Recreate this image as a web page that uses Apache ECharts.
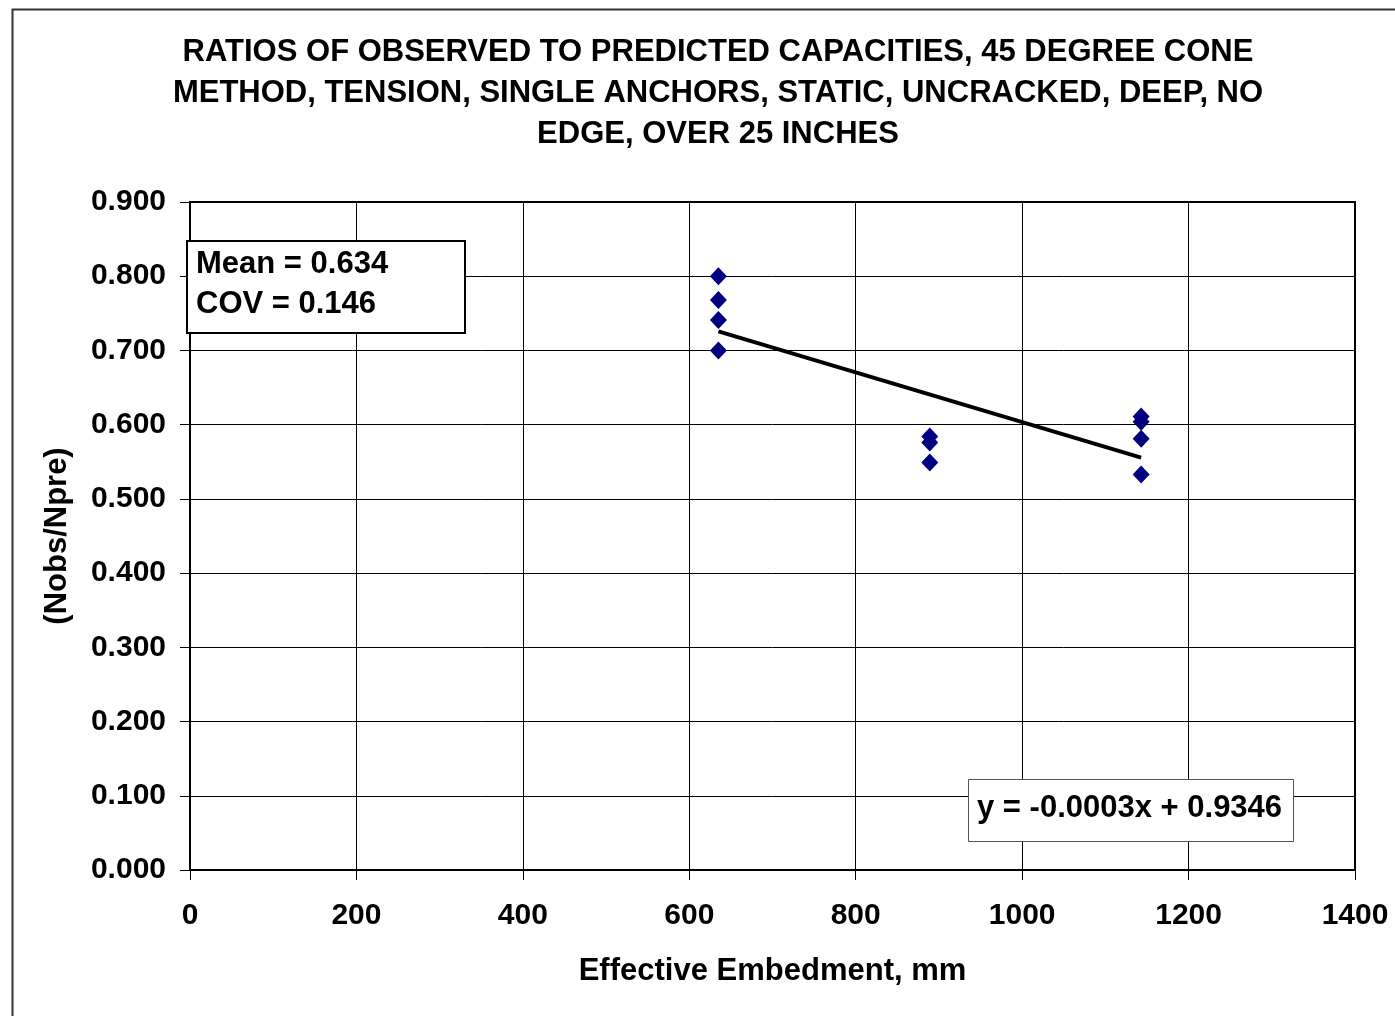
<!DOCTYPE html>
<html>
<head>
<meta charset="utf-8">
<script src="https://cdn.jsdelivr.net/npm/echarts@6/dist/echarts.min.js"></script>
<style>
html,body{margin:0;padding:0;background:#fff;}
#chart{width:1395px;height:1016px;}
</style>
</head>
<body>
<div id="chart"></div>
<script>
// Data
const embedment = [635, 635, 635, 635, 889, 889, 889, 1143, 1143, 1143, 1143];
const ratios = [0.800, 0.768, 0.741, 0.700, 0.584, 0.576, 0.549, 0.611, 0.604, 0.581, 0.533];
const titleLines = [
  'RATIOS OF OBSERVED TO PREDICTED CAPACITIES, 45 DEGREE CONE',
  'METHOD, TENSION, SINGLE ANCHORS, STATIC, UNCRACKED, DEEP, NO',
  'EDGE, OVER 25 INCHES'
];
const statsLines = ['Mean = 0.634', 'COV = 0.146'];
const equationText = 'y = -0.0003x + 0.9346';
const xTicks = { min: 0, max: 1400, interval: 200 };
const yTicks = { min: 0, max: 0.9, interval: 0.1 };

// Least-squares trend line from the data
const n = embedment.length;
const mx = embedment.reduce((a, b) => a + b, 0) / n;
const my = ratios.reduce((a, b) => a + b, 0) / n;
let sxy = 0, sxx = 0;
for (let i = 0; i < n; i++) { sxy += (embedment[i] - mx) * (ratios[i] - my); sxx += (embedment[i] - mx) ** 2; }
const slope = sxy / sxx, intercept = my - slope * mx;
const xMin = Math.min(...embedment), xMax = Math.max(...embedment);
const trend = [[xMin, intercept + slope * xMin], [xMax, intercept + slope * xMax]];

const FONT = 'Liberation Sans, Arial, sans-serif';
const chart = echarts.init(document.getElementById('chart'), null, { renderer: 'canvas' });
chart.setOption({
  backgroundColor: '#fff',
  animation: false,
  title: {
    text: titleLines.join('\n'),
    left: 713, top: 27, textAlign: 'center',
    textStyle: { fontFamily: FONT, fontWeight: 'bold', fontSize: 31, lineHeight: 41, color: '#000' }
  },
  grid: { left: 190, top: 202, right: 40, bottom: 146, show: true, borderColor: '#000', borderWidth: 2, backgroundColor: 'transparent' },
  xAxis: {
    type: 'value', min: xTicks.min, max: xTicks.max, interval: xTicks.interval,
    name: 'Effective Embedment, mm', nameLocation: 'middle', nameGap: 86,
    nameTextStyle: { fontFamily: FONT, fontWeight: 'bold', fontSize: 31, color: '#000' },
    axisLine: { show: true, onZero: false, lineStyle: { color: '#000', width: 2 } },
    axisTick: { show: true, inside: false, length: 10, lineStyle: { color: '#000', width: 1 } },
    axisLabel: { margin: 31, fontFamily: FONT, fontWeight: 'bold', fontSize: 30, color: '#000', formatter: v => String(v) },
    splitLine: { show: true, lineStyle: { color: '#000', width: 1 } }
  },
  yAxis: {
    type: 'value', min: yTicks.min, max: yTicks.max, interval: yTicks.interval,
    name: '(Nobs/Npre)', nameLocation: 'middle', nameGap: 117, nameRotate: 90,
    nameTextStyle: { fontFamily: FONT, fontWeight: 'bold', fontSize: 31, color: '#000' },
    axisLine: { show: true, onZero: false, lineStyle: { color: '#000', width: 2 } },
    axisTick: { show: true, inside: false, length: 10, lineStyle: { color: '#000', width: 1 } },
    axisLabel: { margin: 24, fontFamily: FONT, fontWeight: 'bold', fontSize: 30, color: '#000', formatter: v => v.toFixed(3) },
    splitLine: { show: true, lineStyle: { color: '#000', width: 1 } }
  },
  series: [
    {
      type: 'line', data: trend, showSymbol: false, symbol: 'none',
      lineStyle: { color: '#000', width: 4 }, z: 3, silent: true
    },
    {
      type: 'scatter', data: embedment.map((x, i) => [x, ratios[i]]),
      symbol: 'diamond', symbolSize: [17, 18],
      itemStyle: { color: '#000080', opacity: 1 }, z: 4
    }
  ],
  graphic: [
    { type: 'rect', left: 10, top: 7, shape: { width: 1400, height: 1020 }, style: { fill: 'none', stroke: '#333', lineWidth: 2 }, z: -1, silent: true },
    { type: 'rect', left: 186, top: 240, shape: { width: 278, height: 92 }, style: { fill: '#fff', stroke: '#000', lineWidth: 2 }, z: 10 },
    { type: 'text', left: 196, top: 244, style: { text: statsLines.join('\n'), fontFamily: FONT, fontWeight: 'bold', fontSize: 31, lineHeight: 40, fill: '#000' }, z: 11 },
    { type: 'rect', left: 968, top: 779, shape: { width: 325, height: 62 }, style: { fill: '#fff', stroke: '#555', lineWidth: 1 }, z: 10 },
    { type: 'text', left: 977, top: 793, style: { text: equationText, fontFamily: FONT, fontWeight: 'bold', fontSize: 31, fill: '#000' }, z: 11 }
  ]
});
</script>
</body>
</html>
